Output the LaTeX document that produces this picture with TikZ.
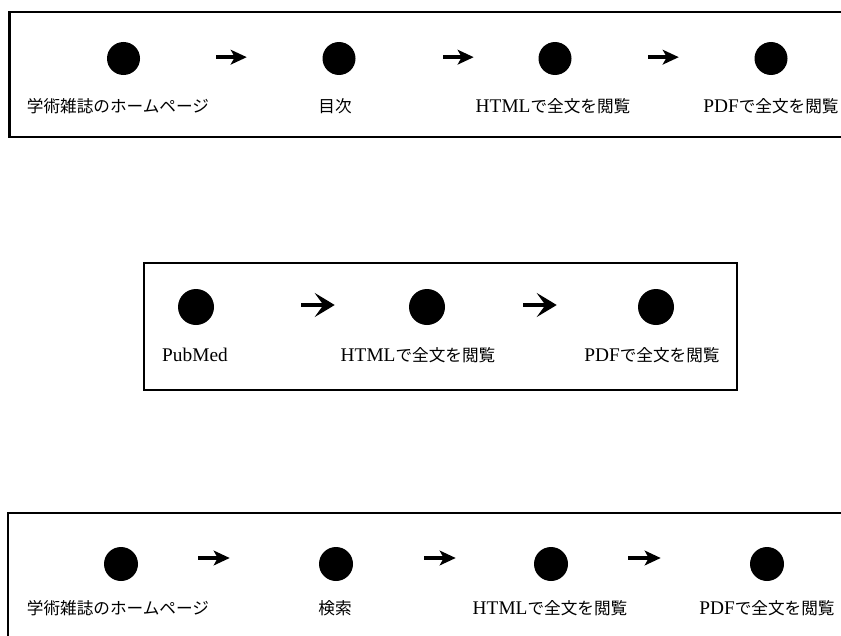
\documentclass[tikz,border=0pt]{standalone}
\usepackage{fontspec}
\setmainfont{Liberation Serif}
\newfontfamily\jpfont{Noto Sans CJK JP}[Scale=0.86]
\usetikzlibrary{arrows.meta}
\newcommand{\J}[1]{{\jpfont #1}}
\begin{document}
\begin{tikzpicture}[x=0.75pt,y=-0.75pt,
  frame/.style={line width=1.7pt,black},
  dot/.style={circle,fill=black,inner sep=0pt,minimum size=#1},
  dot/.default=24.75pt,
  lbl/.style={inner sep=0pt,font=\fontsize{14.5pt}{17pt}\selectfont},
  arr/.style={line width=3pt,-{Stealth[length=12pt,width=11pt,inset=3pt]}},
  arrb/.style={line width=3.6pt,-{Stealth[length=15pt,width=18pt,inset=6.5pt]}}]
\useasboundingbox (0,0) rectangle (841,635);
\fill[white] (0,0) rectangle (841,635);
% ---------- box 1 ----------
\draw[frame] (845,12) -- (9.5,12) -- (9.5,137) -- (845,137);
\node[dot] (a1) at (123.5,58.5) {};
\node[dot] (a2) at (339,58.5) {};
\node[dot] (a3) at (555,58.5) {};
\node[dot] (a4) at (771,58.5) {};
\node[lbl] (la1) at (118,106) {\J{学術雑誌のホームページ}};
\node[lbl] (la2) at (335,106) {\J{目次}};
\node[lbl] (la3) at (553,106) {HTML\J{で全文を閲覧}};
\node[lbl] (la4) at (771,106) {PDF\J{で全文を閲覧}};
\draw[arr,shorten <=57pt,shorten >=56.6pt] ([yshift=1pt]a1.east) -- ([yshift=1pt]a2.west);
\draw[arr,shorten <=65.6pt,shorten >=48.4pt] ([yshift=1pt]a2.east) -- ([yshift=1pt]a3.west);
\draw[arr,shorten <=57.4pt,shorten >=56.6pt] ([yshift=1pt]a3.east) -- ([yshift=1pt]a4.west);
% ---------- box 2 ----------
\draw[frame] (144,263) rectangle (737,390);
\node[dot=27pt] (b1) at (196,307) {};
\node[dot=27pt] (b2) at (427,307) {};
\node[dot=27pt] (b3) at (656,307) {};
\node[lbl] (lb1) at (195,355) {PubMed};
\node[lbl] (lb2) at (418,355) {HTML\J{で全文を閲覧}};
\node[lbl] (lb3) at (652,355) {PDF\J{で全文を閲覧}};
\draw[arrb,shorten <=65.25pt,shorten >=55.5pt] ([yshift=1.5pt]b1.east) -- ([yshift=1.5pt]b2.west);
\draw[arrb,shorten <=58.5pt,shorten >=60.75pt] ([yshift=1.5pt]b2.east) -- ([yshift=1.5pt]b3.west);
% ---------- box 3 ----------
\draw[frame] (845,513) -- (8,513) -- (8,640);
\node[dot=25.5pt] (c1) at (121,564) {};
\node[dot=25.5pt] (c2) at (336,564) {};
\node[dot=25.5pt] (c3) at (551,564) {};
\node[dot=25.5pt] (c4) at (767,564) {};
\node[lbl] (lc1) at (118,608) {\J{学術雑誌のホームページ}};
\node[lbl] (lc2) at (335,608) {\J{検索}};
\node[lbl] (lc3) at (550,608) {HTML\J{で全文を閲覧}};
\node[lbl] (lc4) at (767,608) {PDF\J{で全文を閲覧}};
\draw[arr,shorten <=45pt,shorten >=66.75pt] ([yshift=4.5pt]c1.east) -- ([yshift=4.5pt]c2.west);
\draw[arr,shorten <=53.25pt,shorten >=58.5pt] ([yshift=4.5pt]c2.east) -- ([yshift=4.5pt]c3.west);
\draw[arr,shorten <=45pt,shorten >=66.75pt] ([yshift=4.5pt]c3.east) -- ([yshift=4.5pt]c4.west);
\end{tikzpicture}
\end{document}
